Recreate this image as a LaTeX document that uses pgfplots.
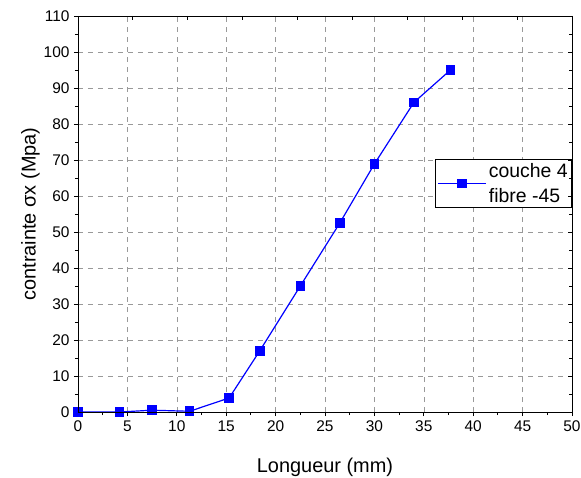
\documentclass[border=0pt]{standalone}
\usepackage{fontspec}
\setmainfont{Liberation Sans}
\usepackage{pgfplots}
\pgfplotsset{compat=1.18}
\newcommand{\tk}[1]{\mbox{\fontsize{15.5}{18}\selectfont #1}}
\begin{document}
\begin{tikzpicture}
\path[use as bounding box] (-78bp,-66bp) rectangle (503bp,396bp+16bp);
\begin{axis}[
  at={(0,0)}, anchor=south west,
  scale only axis, width=494bp, height=396bp,
  xmin=0, xmax=50, ymin=0, ymax=110,
  xtick={0,5,...,50}, ytick={0,10,...,110},
  xticklabels={\tk{0},\tk{5},\tk{10},\tk{15},\tk{20},\tk{25},\tk{30},\tk{35},\tk{40},\tk{45},\tk{50}},
  yticklabels={\tk{0},\tk{10},\tk{20},\tk{30},\tk{40},\tk{50},\tk{60},\tk{70},\tk{80},\tk{90},\tk{100},\tk{110}},
  minor x tick num=1, minor y tick num=1,
  tick align=outside, xtick pos=bottom, ytick pos=left,
  major tick length=4bp, minor tick length=3bp,
  grid=major,
  major grid style={gray!80, dash pattern=on 5bp off 5bp, line width=0.6pt},
  axis line style={line width=0.9pt},
  tick style={black, line width=0.9pt},
  tick label style={font=\fontsize{15.5}{18}\selectfont},
  yticklabel style={xshift=-1bp},
  xticklabel style={yshift=-1bp},
  label style={font=\fontsize{20}{24}\selectfont},
  xlabel={Longueur (mm)}, ylabel={contrainte σx (Mpa)},
  xlabel style={at={(axis description cs:0.5,0)}, anchor=base, yshift=-60bp},
  ylabel style={yshift=-3bp},
  legend style={at={(1,0.639)}, anchor=north east, draw=black, line width=0.6pt,
    font=\fontsize{19.5}{25}\selectfont, cells={align=left}, inner sep=2pt},
  legend cell align=left,
  legend image code/.code={\draw[mark repeat=2,mark phase=2] plot coordinates {(-4bp,0bp) (20bp,0bp) (44bp,0bp)};},
]
\addplot[blue, line width=1.2pt, mark=square*, mark size=4.2pt, mark options={solid, fill=blue}]
  coordinates {
  (0,0) (4.2,0) (7.5,0.5) (11.3,0.2) (15.3,3.9) (18.4,17) (22.5,35)
  (26.5,52.5) (30,68.9) (34,86) (37.7,95)
  };
\addlegendentry{couche 4\\fibre -45}
\end{axis}
\begin{axis}[
  at={(0,0)}, anchor=south west,
  scale only axis, width=494bp, height=396bp,
  xmin=0, xmax=50, ymin=0, ymax=110,
  xtick={0,5.5556,11.1111,16.6667,22.2222,27.7778,33.3333,38.8889,44.4444,50},
  ytick={0,10,...,110},
  minor x tick num=1, minor y tick num=1,
  tick align=inside, xtick pos=top, ytick pos=right,
  major tick length=4bp, minor tick length=3bp,
  xticklabels={}, yticklabels={},
  axis line style={line width=0.9pt},
  tick style={black, line width=0.9pt},
]
\end{axis}
\end{tikzpicture}
\end{document}
